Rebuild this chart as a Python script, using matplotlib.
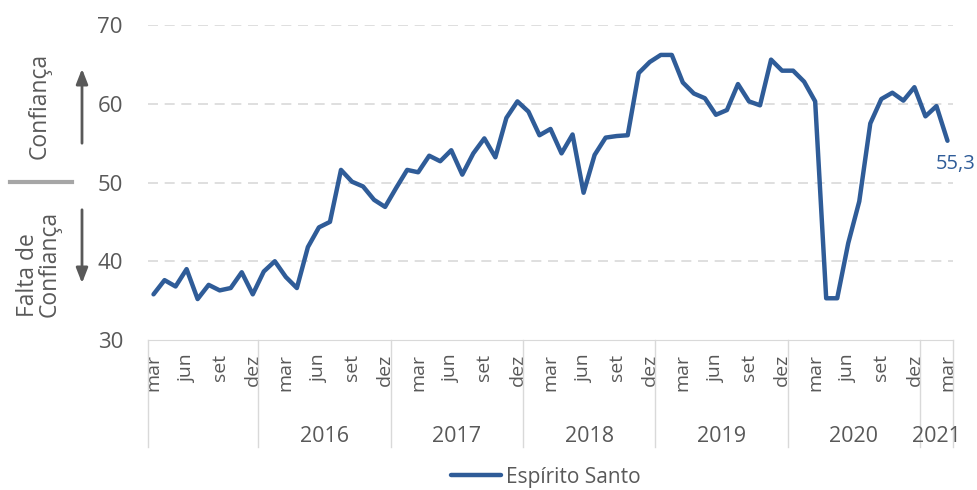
import matplotlib
matplotlib.use("Agg")
import matplotlib.pyplot as plt
from matplotlib.transforms import blended_transform_factory
from matplotlib.lines import Line2D

plt.rcParams['font.family'] = ['Open Sans', 'DejaVu Sans']

# monthly index, mar/2015 .. mar/2021
years = ['', '2016', '2017', '2018', '2019', '2020', '2021']
months_in_year = [10, 12, 12, 12, 12, 12, 3]
month_names = {3: 'mar', 6: 'jun', 9: 'set', 12: 'dez'}
valores = [
    35.8, 37.6, 36.8, 39.0, 35.2, 37.0, 36.3, 36.6, 38.6, 35.8,
    38.7, 40.0, 38.0, 36.6, 41.8, 44.3, 45.0, 51.6, 50.1, 49.5, 47.8, 46.9,
    49.3, 51.6, 51.3, 53.4, 52.7, 54.1, 51.0, 53.7, 55.6, 53.2, 58.2, 60.3,
    59.0, 56.0, 56.8, 53.7, 56.1, 48.7, 53.5, 55.7, 55.9, 56.0, 63.9, 65.3,
    66.2, 66.2, 62.7, 61.3, 60.7, 58.6, 59.2, 62.5, 60.3, 59.8, 65.6, 64.2,
    64.2, 62.8, 60.3, 35.3, 35.3, 42.3, 47.6, 57.5, 60.6, 61.4, 60.4, 62.1,
    58.4, 59.7, 55.3,
]
serie = 'Espírito Santo'

azul = '#2f5c98'
cinza = '#595959'

fig = plt.figure(figsize=(9.78, 4.9), dpi=100)
ax = fig.add_axes([148/978, 150/490, 805/978, 315/490])

x = list(range(len(valores)))
ax.plot(x, valores, color=azul, lw=3.2, solid_joinstyle='round', solid_capstyle='round', label=serie)

ax.set_xlim(-0.5, len(valores) - 0.5)
ax.set_ylim(30, 70)
ax.set_yticks([30, 40, 50, 60, 70])
for v in [40, 50, 60, 70]:
    ax.axhline(v, color='#d9d9d9', lw=1.2, ls=(0, (6, 4)), zorder=0)

for s in ['top', 'right', 'left']:
    ax.spines[s].set_visible(False)
ax.spines['bottom'].set_color('#d9d9d9')
ax.tick_params(axis='y', length=0, pad=18, labelsize=16, labelcolor=cinza)

# month tick labels
ticks, labels = [], []
m = 3
for i in x:
    if m in month_names:
        ticks.append(i)
        labels.append(month_names[m])
    m = m % 12 + 1
ax.set_xticks(ticks)
ax.set_xticklabels(labels, rotation=90, fontsize=14, color=cinza, va='top')
ax.tick_params(axis='x', length=0, pad=10)

# year groups and separators
tr = blended_transform_factory(ax.transData, ax.transAxes)
start = -0.5
bounds = [start]
for yr, n in zip(years, months_in_year):
    end = start + n
    if yr:
        ax.text((start + end) / 2, -0.305, yr, transform=tr, ha='center', va='center',
                fontsize=15.5, color=cinza)
    start = end
    bounds.append(end)
for b in bounds:
    ax.add_line(Line2D([b, b], [0, -0.34], transform=tr, color='#d9d9d9', lw=1, clip_on=False))

# last value label
ax.annotate('55,3', (x[-1], valores[-1]), xytext=(6, -17), textcoords='offset points',
            ha='center', va='center', fontsize=14.5, color=azul)

# left annotations
fig.text(40/978, 1 - 106/490, 'Confiança', rotation=90, ha='center', va='center',
         fontsize=16.5, color=cinza)
fig.text(39/978, 1 - 264/490, 'Falta de\nConfiança', rotation=90, ha='center', va='center',
         fontsize=16.5, color=cinza, multialignment='left', linespacing=0.85)
ax.annotate('', xy=(82, 490 - 66), xytext=(82, 490 - 146), xycoords='figure pixels',
            textcoords='figure pixels',
            arrowprops=dict(arrowstyle='-|>,head_width=0.35,head_length=0.9', color=cinza, lw=2))
ax.annotate('', xy=(82, 490 - 286), xytext=(82, 490 - 207), xycoords='figure pixels',
            textcoords='figure pixels',
            arrowprops=dict(arrowstyle='-|>,head_width=0.35,head_length=0.9', color=cinza, lw=2))
fig.add_artist(Line2D([10/978, 72/978], [1 - 182/490, 1 - 182/490], color='#a6a6a6', lw=3))

leg = fig.legend(loc='center', bbox_to_anchor=(546/978, 13/490), frameon=False,
                 fontsize=15, handlelength=2.4, handletextpad=0.25)
for t in leg.get_texts():
    t.set_color(cinza)

fig.savefig('out.png', dpi=100)
